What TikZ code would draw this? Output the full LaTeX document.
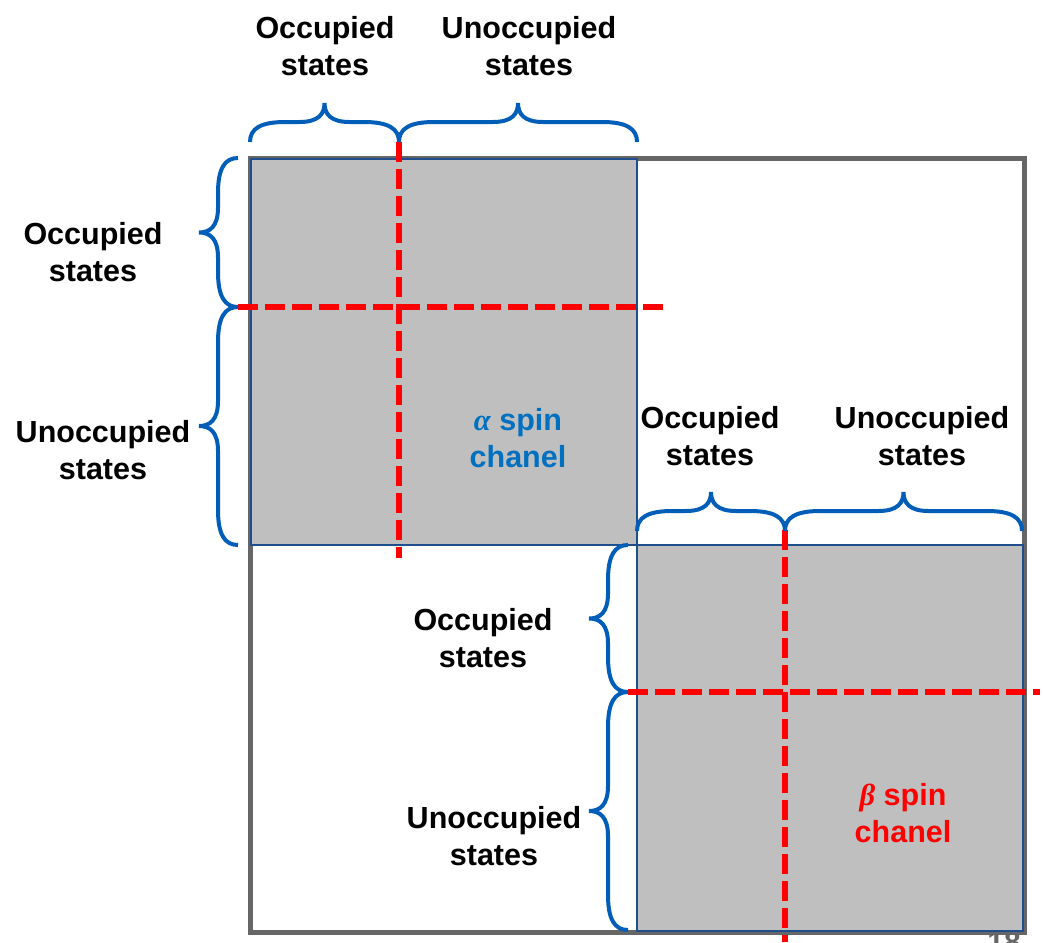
\documentclass[tikz,border=0pt]{standalone}
\usepackage{fontspec}
\setmainfont{Liberation Sans}
\newfontfamily\greekfont{Liberation Serif}
\definecolor{braceblue}{RGB}{0,94,184}
\definecolor{labelblue}{RGB}{0,112,192}
\definecolor{boxedge}{RGB}{31,78,140}
\definecolor{boxfill}{RGB}{191,191,191}
\definecolor{framegray}{RGB}{102,102,102}
\tikzset{
  lbl/.style={font=\fontsize{30.5}{37}\selectfont\bfseries, align=center, inner sep=0pt, text=black},
  spinlbl/.style={font=\fontsize{30.5}{37}\selectfont\bfseries, align=center, inner sep=0pt},
  blk/.style={draw=boxedge, line width=1.8pt, fill=boxfill, minimum width=386pt, minimum height=386pt, inner sep=0pt, outer sep=0pt},
  redline/.style={draw=red, line width=6pt, dash pattern=on 20pt off 7pt},
  bracestyle/.style={draw=braceblue, line width=4pt}
}
% horizontal brace pointing up: x1, x2, base y
\newcommand\HBr[3]{%
  \draw[bracestyle] (#1,#3) .. controls ({#1},{#3-13}) and ({#1+10},{#3-20}) .. ({#1+35},{#3-20})
   -- ({(#1+#2)/2-25},{#3-20}) .. controls ({(#1+#2)/2-6},{#3-20}) and ({(#1+#2)/2},{#3-28}) .. ({(#1+#2)/2},{#3-39})
   .. controls ({(#1+#2)/2},{#3-28}) and ({(#1+#2)/2+6},{#3-20}) .. ({(#1+#2)/2+25},{#3-20})
   -- ({#2-35},{#3-20}) .. controls ({#2-10},{#3-20}) and ({#2},{#3-13}) .. (#2,#3);}
% vertical brace pointing left: y1, y2, base x
\newcommand\VBr[3]{%
  \draw[bracestyle] (#3,#1) .. controls ({#3-13},{#1}) and ({#3-20},{#1+10}) .. ({#3-20},{#1+35})
   -- ({#3-20},{(#1+#2)/2-25}) .. controls ({#3-20},{(#1+#2)/2-6}) and ({#3-28},{(#1+#2)/2}) .. ({#3-39},{(#1+#2)/2})
   .. controls ({#3-28},{(#1+#2)/2}) and ({#3-20},{(#1+#2)/2+6}) .. ({#3-20},{(#1+#2)/2+25})
   -- ({#3-20},{#2-35}) .. controls ({#3-20},{#2-10}) and ({#3-13},{#2}) .. (#3,#2);}
\begin{document}
\begin{tikzpicture}[x=1pt,y=-1pt]
\useasboundingbox (0,0) rectangle (1043,942);
\clip (0,0) rectangle (1043,942);
% outer frame
\draw[framegray, line width=5pt] (250,158) rectangle (1024,932);
% slide number fragment
\node[anchor=north, inner sep=0pt, text=framegray, font=\fontsize{30}{36}\selectfont\bfseries] (pg) at (1004,931) {18};
% blocks
\node[blk] (alpha) at (444,352) {};
\node[blk] (beta) at (830,738) {};
% red dashed partitions
\draw[redline] (399,142) -- (399,558);
\draw[redline] (238,307) -- (668,307);
\draw[redline] (785,530) -- (785,942);
\draw[redline] (628,692) -- (1040,692);
% braces alpha
\HBr{250}{399}{142}
\HBr{399}{637}{142}
\VBr{158}{307}{238}
\VBr{307}{545}{238}
% braces beta
\HBr{637}{785}{531}
\HBr{785}{1022}{531}
\VBr{545}{692}{628}
\VBr{692}{930}{628}
% labels alpha
\node[lbl] (aocc) at (325,46) {Occupied\\states};
\node[lbl] (aunocc) at (529,46) {Unoccupied\\states};
\node[lbl] (aoccL) at (93,252) {Occupied\\states};
\node[lbl] (aunoccL) at (103,450) {Unoccupied\\states};
\node[spinlbl, text=labelblue] (alab) at (518,438) {{\greekfont\itshape α} spin\\chanel};
% labels beta
\node[lbl] (bocc) at (710,436) {Occupied\\states};
\node[lbl] (bunocc) at (922,436) {Unoccupied\\states};
\node[lbl] (boccL) at (483,638) {Occupied\\states};
\node[lbl] (bunoccL) at (494,836) {Unoccupied\\states};
\node[spinlbl, text=red] (blab) at (903,813) {{\greekfont\itshape β} spin\\chanel};
\end{tikzpicture}
\end{document}
